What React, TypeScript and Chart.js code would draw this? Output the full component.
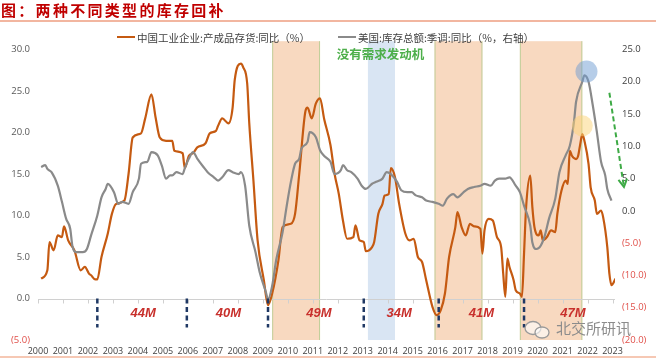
import React, { useEffect, useRef } from "react";
import { Chart, registerables } from "chart.js";

Chart.register(...registerables);

// ---------- data ----------
const yearLabels = ["2000","2001","2002","2003","2004","2005","2006","2007","2008","2009","2010","2011","2012","2013","2014","2015","2016","2017","2018","2019","2020","2021","2022","2023"];

const leftTickValues = [-5, 0, 5, 10, 15, 20, 25, 30];
const rightTickValues = [-20, -15, -10, -5, 0, 5, 10, 15, 20, 25];

const chinaLabel = "中国工业企业:产成品存货:同比（%）";
const usLabel = "美国:库存总额:季调:同比（%，右轴）";

const chinaDates = ["2000-08","2000-11","2000-12","2001-02","2001-04","2001-06","2001-07","2001-09","2001-12","2002-03","2002-05","2002-07","2002-08","2002-10","2002-11","2003-01","2003-04","2003-06","2003-08","2003-12","2004-02","2004-04","2004-08","2004-10","2005-01","2005-03","2005-05","2005-08","2005-11","2005-12","2006-04","2006-05","2006-07","2006-09","2006-11","2007-03","2007-05","2007-08","2007-09","2007-11","2008-02","2008-04","2008-05","2008-08","2008-09","2008-11","2008-12","2009-02","2009-04","2009-07","2009-09","2009-11","2010-02","2010-04","2010-08","2010-10","2010-12","2011-03","2011-04","2011-06","2011-08","2011-10","2011-12","2012-03","2012-05","2012-07","2012-09","2012-11","2013-02","2013-03","2013-05","2013-07","2013-08","2013-11","2013-12","2014-02","2014-04","2014-05","2014-07","2014-08","2014-10","2014-12","2015-03","2015-05","2015-07","2015-09","2015-11","2016-01","2016-04","2016-06","2016-08","2016-10","2016-12","2017-03","2017-04","2017-06","2017-08","2017-10","2017-12","2018-03","2018-04","2018-05","2018-07","2018-09","2018-11","2019-01","2019-02","2019-03","2019-04","2019-05","2019-07","2019-08","2019-10","2019-11","2019-12","2020-01","2020-03","2020-04","2020-05","2020-07","2020-08","2020-09","2020-11","2021-01","2021-03","2021-04","2021-06","2021-08","2021-09","2021-10","2021-11","2022-01","2022-02","2022-03","2022-04","2022-05","2022-07","2022-08","2022-10","2022-11","2023-01","2023-02","2023-04","2023-05","2023-06","2023-08"];
const chinaValues = [2.4,3.4,6.8,5.8,7.6,7.4,8.7,7.0,5.8,3.4,3.8,3.0,2.8,2.3,2.3,5.0,7.8,10.2,11.4,11.8,15.0,19.4,19.9,21.7,24.6,21.8,19.4,19.0,19.0,17.8,17.5,15.7,17.2,17.5,18.2,18.7,19.9,20.2,20.8,21.7,21.1,23.0,26.3,28.3,27.9,25.9,21.1,14.2,7.0,2.2,-0.8,0.6,4.6,8.6,9.0,10.2,15.0,22.6,23.0,21.7,23.5,24.1,21.6,18.5,15.0,12.6,9.4,7.2,7.4,8.8,7.0,6.8,5.7,6.2,6.8,10.2,11.4,12.4,12.6,15.7,14.6,11.4,7.8,7.0,7.2,5.0,4.4,2.2,-1.0,-2.0,-1.4,0.6,5.0,8.6,10.4,8.6,7.6,9.0,8.7,8.4,5.4,8.2,9.6,9.4,7.4,6.2,3.0,0.2,4.8,3.8,2.2,1.0,0.6,0.2,5.4,11.0,14.8,11.0,8.6,7.6,8.2,7.0,7.4,8.2,8.0,10.2,13.0,14.2,13.8,17.8,17.2,16.8,17.2,18.6,19.8,19.0,16.2,13.4,11.8,10.2,10.6,9.8,6.2,3.0,1.6,2.4];

const usDates = ["2000-08","2000-10","2000-11","2001-01","2001-04","2001-06","2001-08","2001-10","2001-11","2002-01","2002-04","2002-06","2002-08","2002-11","2003-01","2003-03","2003-04","2003-07","2003-09","2003-11","2004-02","2004-04","2004-07","2004-08","2004-11","2005-01","2005-04","2005-06","2005-08","2005-10","2005-11","2006-01","2006-04","2006-05","2006-07","2006-09","2006-11","2007-02","2007-04","2007-07","2007-09","2007-11","2008-02","2008-04","2008-07","2008-08","2008-10","2008-12","2009-03","2009-05","2009-08","2009-09","2009-11","2010-01","2010-04","2010-06","2010-08","2010-10","2010-12","2011-01","2011-04","2011-05","2011-08","2011-10","2011-12","2012-03","2012-05","2012-08","2012-09","2012-11","2013-01","2013-04","2013-06","2013-08","2013-11","2014-01","2014-04","2014-06","2014-08","2014-11","2015-01","2015-04","2015-06","2015-08","2015-11","2016-01","2016-04","2016-07","2016-09","2016-11","2017-02","2017-04","2017-07","2017-09","2017-12","2018-03","2018-05","2018-08","2018-10","2018-12","2019-03","2019-05","2019-08","2019-10","2019-12","2020-03","2020-04","2020-06","2020-08","2020-10","2020-12","2021-03","2021-05","2021-08","2021-10","2021-12","2022-01","2022-04","2022-05","2022-07","2022-09","2022-11","2023-01","2023-03","2023-04","2023-06"];
const usValues = [6.8,7.1,6.5,6.0,3.9,1.4,-1.2,-2.8,-5.4,-6.4,-6.4,-5.9,-3.8,-0.7,2.1,3.4,4.2,2.9,1.1,1.4,1.1,2.9,5.0,7.3,7.6,9.1,8.6,7.0,5.0,5.5,5.5,6.0,5.7,6.6,8.1,9.1,8.1,6.8,6.0,5.2,4.7,5.2,6.3,6.0,5.7,6.0,3.9,-2.3,-6.4,-9.5,-12.6,-13.7,-11.6,-7.5,-3.3,0.8,4.5,7.3,8.1,9.6,10.7,12.2,11.4,9.4,8.5,7.6,5.7,6.3,7.1,6.3,6.0,5.0,3.9,3.4,4.2,4.5,5.0,6.0,5.7,4.5,3.2,2.9,2.9,2.4,2.1,1.6,1.4,1.1,0.8,1.9,2.6,2.1,2.9,3.4,3.7,3.9,4.2,3.9,4.7,5.0,5.0,5.2,3.9,2.9,0.8,-2.3,-4.9,-5.9,-5.4,-3.8,-1.2,1.9,6.0,8.6,10.1,13.8,16.9,20.0,21.0,20.0,16.4,12.2,7.6,5.5,3.4,1.6];

// shaded periods (start, end)
const orangeShadeStarts = ["2009-11", "2016-05", "2019-10"];
const orangeShadeEnds = ["2011-10", "2018-04", "2022-04"];
const blueShadeStarts = ["2013-09"];
const blueShadeEnds = ["2014-10"];

// cycle markers
const cycleDates = ["2002-11", "2006-06", "2009-09", "2013-07", "2016-07", "2019-12"];
const cycleLabels = ["44M", "40M", "49M", "34M", "41M", "47M"];

const noteText = "没有需求发动机";
const watermarkText = "北交所研讯";
const titleText = "图：两种不同类型的库存回补";

// ---------- styles ----------
const ORANGE = "#C55A11";
const GRAY = "#8A8A8A";
const RED = "#E0504A";
const NUM_FONT = "'Open Sans', 'Liberation Sans', Arial, sans-serif";
const CJK_FONT = "'Noto Sans CJK SC', 'Noto Sans', sans-serif";

const toT = (s: string) => {
  const [yy, mm] = s.split("-").map(Number);
  return yy + (mm - 0.5) / 12;
};

const fmt = (v: number) => (v < 0 ? `(${Math.abs(v).toFixed(1)})` : v.toFixed(1));

export default function App() {
  const ref = useRef<HTMLCanvasElement>(null);

  useEffect(() => {
    const canvas = ref.current;
    if (!canvas) return;

    const overlay = {
      id: "overlay",
      beforeDatasetsDraw(chart: any) {
        const { ctx, chartArea } = chart;
        const x = chart.scales.x;
        const y = chart.scales.y;
        const top = y.getPixelForValue(31);
        const bottom = y.getPixelForValue(-5);
        ctx.save();
        orangeShadeStarts.forEach((s, i) => {
          const x0 = x.getPixelForValue(toT(s));
          const x1 = x.getPixelForValue(toT(orangeShadeEnds[i]));
          ctx.fillStyle = "#F8D9C0";
          ctx.fillRect(x0, top, x1 - x0, bottom - top);
          ctx.strokeStyle = "rgba(185,205,150,0.9)";
          ctx.lineWidth = 1;
          ctx.beginPath();
          ctx.moveTo(x0 + 0.5, top);
          ctx.lineTo(x0 + 0.5, bottom);
          ctx.moveTo(x1 - 0.5, top);
          ctx.lineTo(x1 - 0.5, bottom);
          ctx.stroke();
        });
        blueShadeStarts.forEach((s, i) => {
          const x0 = x.getPixelForValue(toT(s));
          const x1 = x.getPixelForValue(toT(blueShadeEnds[i]));
          ctx.fillStyle = "#D9E5F3";
          ctx.fillRect(x0, top, x1 - x0, bottom - top);
        });
        // zero axis line
        const zy = Math.round(y.getPixelForValue(0)) + 0.5;
        ctx.strokeStyle = "#D0D0D0";
        ctx.lineWidth = 1;
        ctx.beginPath();
        ctx.moveTo(chartArea.left, zy);
        ctx.lineTo(chartArea.right, zy);
        yearLabels.forEach((l) => {
          const px = Math.round(x.getPixelForValue(Number(l) + 0.5)) + 0.5;
          ctx.moveTo(px, zy);
          ctx.lineTo(px, zy + 4);
        });
        ctx.stroke();
        ctx.restore();
      },
      afterDatasetsDraw(chart: any) {
        const { ctx } = chart;
        const x = chart.scales.x;
        const y = chart.scales.y;
        const y1 = chart.scales.y1;
        ctx.save();
        // cycle dashed lines
        ctx.strokeStyle = "#1F3864";
        ctx.lineWidth = 2.5;
        ctx.setLineDash([5, 3.5]);
        cycleDates.forEach((d) => {
          const px = x.getPixelForValue(toT(d));
          ctx.beginPath();
          ctx.moveTo(px, y.getPixelForValue(0));
          ctx.lineTo(px, y.getPixelForValue(-3.5));
          ctx.stroke();
        });
        ctx.setLineDash([]);
        // cycle labels
        ctx.fillStyle = "#C8302C";
        ctx.font = `italic bold 13px 'Liberation Sans', Arial, sans-serif`;
        ctx.textAlign = "center";
        ctx.textBaseline = "middle";
        cycleDates.forEach((d, i) => {
          const months = parseInt(cycleLabels[i], 10);
          const t = toT(d) + months / 24;
          ctx.fillText(cycleLabels[i], x.getPixelForValue(t), y.getPixelForValue(-1.8));
        });
        // circles
        ctx.fillStyle = "rgba(110,155,210,0.5)";
        ctx.beginPath();
        ctx.arc(x.getPixelForValue(toT("2022-06")), y1.getPixelForValue(21.6), 11, 0, Math.PI * 2);
        ctx.fill();
        ctx.fillStyle = "rgba(252,212,120,0.5)";
        ctx.beginPath();
        ctx.arc(x.getPixelForValue(toT("2022-04")), y.getPixelForValue(20.8), 10.5, 0, Math.PI * 2);
        ctx.fill();
        // green note
        ctx.fillStyle = "#4DAF4A";
        ctx.font = `bold 12.5px ${CJK_FONT}`;
        ctx.fillText(noteText, x.getPixelForValue(toT("2014-03")), y.getPixelForValue(29.4));
        // green dashed arrow
        const ax0 = x.getPixelForValue(toT("2023-05"));
        const ay0 = y1.getPixelForValue(18.3);
        const ax1 = x.getPixelForValue(toT("2023-12"));
        const ay1 = y1.getPixelForValue(3.7);
        ctx.strokeStyle = "#3DAA45";
        ctx.lineWidth = 2;
        ctx.setLineDash([5, 3]);
        ctx.beginPath();
        ctx.moveTo(ax0, ay0);
        ctx.lineTo(ax1, ay1);
        ctx.stroke();
        ctx.setLineDash([]);
        const ang = Math.atan2(ay1 - ay0, ax1 - ax0);
        const hl = 9;
        ctx.beginPath();
        ctx.moveTo(ax1 - hl * Math.cos(ang - 0.5), ay1 - hl * Math.sin(ang - 0.5));
        ctx.lineTo(ax1, ay1);
        ctx.lineTo(ax1 - hl * Math.cos(ang + 0.5), ay1 - hl * Math.sin(ang + 0.5));
        ctx.stroke();
        ctx.restore();
      },
    };

    const chart = new Chart(canvas, {
      type: "line",
      data: {
        datasets: [
          {
            label: chinaLabel,
            data: chinaDates.map((d, i) => ({ x: toT(d), y: chinaValues[i] })),
            borderColor: ORANGE,
            backgroundColor: ORANGE,
            borderWidth: 2.2,
            pointRadius: 0,
            cubicInterpolationMode: "monotone",
            yAxisID: "y",
            order: 1,
          },
          {
            label: usLabel,
            data: usDates.map((d, i) => ({ x: toT(d), y: usValues[i] })),
            borderColor: GRAY,
            backgroundColor: GRAY,
            borderWidth: 2.2,
            pointRadius: 0,
            cubicInterpolationMode: "monotone",
            yAxisID: "y1",
            order: 0,
          },
        ],
      },
      options: {
        responsive: false,
        animation: false,
        layout: { padding: { top: 49.5, left: 0, right: 0, bottom: 0 } },
        plugins: {
          legend: { display: false },
          tooltip: { enabled: false },
          title: { display: false },
        },
        scales: {
          x: {
            type: "linear",
            min: 2000.5,
            max: 2023.6,
            grid: { display: false, drawTicks: false },
            border: { display: false },
            afterBuildTicks: (s: any) => {
              s.ticks = yearLabels.map((l) => ({ value: Number(l) + 0.5 }));
            },
            afterFit: (s: any) => {
              s.height = 19;
            },
            ticks: {
              autoSkip: false,
              maxRotation: 0,
              minRotation: 0,
              padding: 6,
              color: "#404040",
              font: { size: 9, family: NUM_FONT },
              callback: (v: any) => String(Math.floor(Number(v))),
            },
          },
          y: {
            position: "left",
            min: -5,
            max: 30,
            grid: { display: false, drawTicks: false },
            border: { display: false },
            afterBuildTicks: (s: any) => {
              s.ticks = leftTickValues.map((v) => ({ value: v }));
            },
            afterFit: (s: any) => {
              s.width = 38;
            },
            ticks: {
              autoSkip: false,
              padding: 8,
              color: (c: any) => (c.tick && c.tick.value < 0 ? RED : "#595959"),
              font: { size: 9.5, family: NUM_FONT },
              callback: (v: any) => fmt(Number(v)),
            },
          },
          y1: {
            position: "right",
            min: -20,
            max: 25,
            grid: { display: false, drawTicks: false },
            border: { display: false },
            afterBuildTicks: (s: any) => {
              s.ticks = rightTickValues.map((v) => ({ value: v }));
            },
            afterFit: (s: any) => {
              s.width = 41;
            },
            ticks: {
              autoSkip: false,
              padding: 7,
              color: (c: any) => (c.tick && c.tick.value < 0 ? RED : "#404040"),
              font: { size: 9.5, family: NUM_FONT },
              callback: (v: any) => fmt(Number(v)),
            },
          },
        },
      } as any,
      plugins: [overlay],
    });

    return () => chart.destroy();
  }, []);

  const legendItem = (left: number, color: string, text: string) => (
    <div
      style={{
        position: "absolute",
        left,
        top: 30,
        height: 14,
        display: "flex",
        alignItems: "center",
        whiteSpace: "nowrap",
        fontFamily: CJK_FONT,
        fontSize: 10.5,
        color: "#404040",
      }}
    >
      <span style={{ display: "inline-block", width: 18, height: 2, background: color, marginRight: 2 }} />
      <span>{text}</span>
    </div>
  );

  return (
    <div
      style={{
        position: "fixed",
        left: 0,
        top: 0,
        width: 656,
        height: 359,
        background: "#fff",
        overflow: "hidden",
      }}
    >
      <canvas ref={ref} width={656} height={359} style={{ position: "absolute", left: 0, top: 0, width: 656, height: 359 }} />
      <div
        style={{
          position: "absolute",
          left: 1,
          top: 1,
          fontFamily: CJK_FONT,
          fontWeight: "bold",
          fontSize: 15,
          lineHeight: "18px",
          letterSpacing: 2.3,
          color: "#C00000",
          whiteSpace: "nowrap",
        }}
      >
        {titleText}
      </div>
      <div style={{ position: "absolute", left: 0, top: 20, width: 656, height: 2, background: "#F2B6A0" }} />
      <div style={{ position: "absolute", left: 0, top: 356, width: 656, height: 2, background: "#F6C8B4" }} />
      {legendItem(117, ORANGE, chinaLabel)}
      {legendItem(338, GRAY, usLabel)}
      <svg style={{ position: "absolute", left: 524, top: 320 }} width={28} height={20} viewBox="0 0 28 20">
        <ellipse cx={9} cy={8} rx={8} ry={6.5} fill="rgba(255,255,255,0.6)" stroke="#9A9A9A" strokeWidth={1.3} />
        <ellipse cx={18} cy={12.5} rx={7} ry={5.5} fill="rgba(255,255,255,0.6)" stroke="#9A9A9A" strokeWidth={1.3} />
      </svg>
      <div
        style={{
          position: "absolute",
          left: 556,
          top: 319,
          fontFamily: CJK_FONT,
          fontSize: 15,
          lineHeight: "18px",
          color: "#8C8C8C",
          whiteSpace: "nowrap",
        }}
      >
        {watermarkText}
      </div>
    </div>
  );
}
